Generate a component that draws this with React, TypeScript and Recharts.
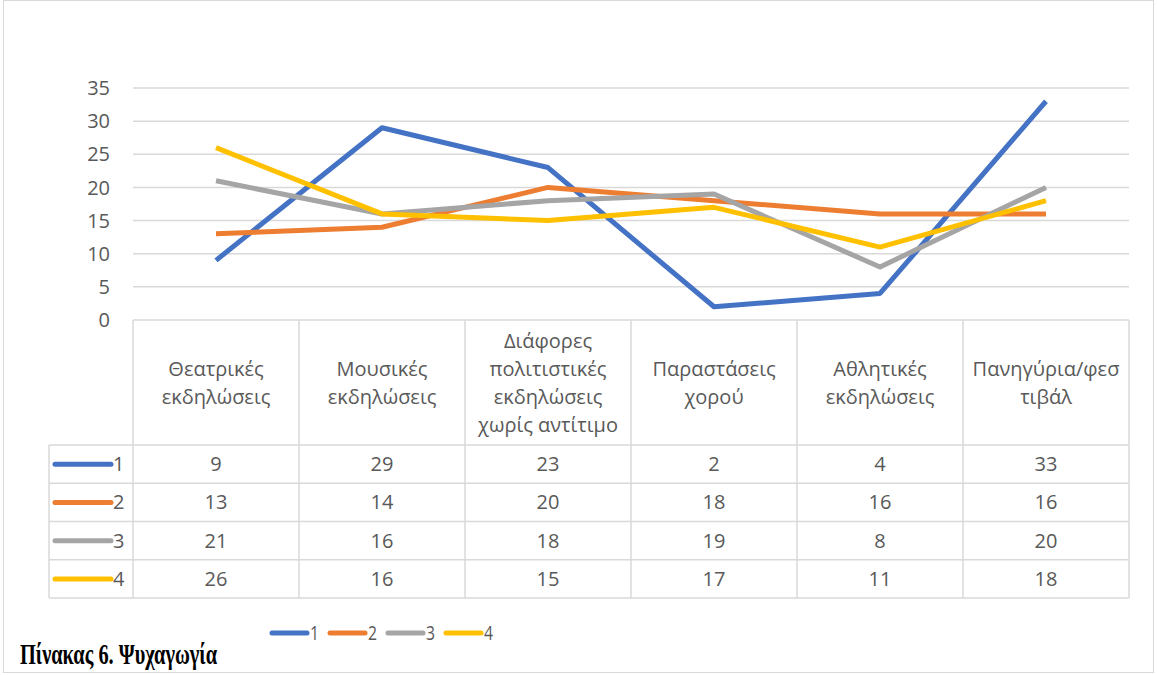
import { LineChart, Line, XAxis, YAxis, CartesianGrid } from 'recharts';

const categories = [
  'Θεατρικές εκδηλώσεις',
  'Μουσικές εκδηλώσεις',
  'Διάφορες πολιτιστικές εκδηλώσεις χωρίς αντίτιμο',
  'Παραστάσεις χορού',
  'Αθλητικές εκδηλώσεις',
  'Πανηγύρια/φεστιβάλ',
];

// header cell text, broken the way the table shows it
const headerLines = [
  ['Θεατρικές', 'εκδηλώσεις'],
  ['Μουσικές', 'εκδηλώσεις'],
  ['Διάφορες', 'πολιτιστικές', 'εκδηλώσεις', 'χωρίς αντίτιμο'],
  ['Παραστάσεις', 'χορού'],
  ['Αθλητικές', 'εκδηλώσεις'],
  ['Πανηγύρια/φεσ', 'τιβάλ'],
];

const seriesNames = ['1', '2', '3', '4'];
const series1 = [9, 29, 23, 2, 4, 33];
const series2 = [13, 14, 20, 18, 16, 16];
const series3 = [21, 16, 18, 19, 8, 20];
const series4 = [26, 16, 15, 17, 11, 18];
const yTicks = [0, 5, 10, 15, 20, 25, 30, 35];

const allSeries = [series1, series2, series3, series4];
const seriesColors = ['#4472C4', '#ED7D31', '#A5A5A5', '#FFC000'];

const chartData = categories.map((name, i) => ({
  name,
  s1: series1[i],
  s2: series2[i],
  s3: series3[i],
  s4: series4[i],
}));

const FONT = "'Open Sans', 'Liberation Sans', sans-serif";
const TEXT = '#595959';
const BORDER = '#d9d9d9';
const FONT_SIZE = 20;
const COL_W = 166;
const HEADER_H = 125;
const ROW_H = 38.25;
const LEGEND_COL_X = 49;

const TableTick = (props: any) => {
  const { x, y, index } = props;
  const lines = headerLines[index] ?? [props.payload?.value];
  const left = x - COL_W / 2;
  const right = x + COL_W / 2;
  const headerMid = y + HEADER_H / 2;
  const rowsTop = y + HEADER_H;
  const bottom = rowsTop + ROW_H * allSeries.length;
  const isFirst = index === 0;
  const isLast = index === categories.length - 1;

  return (
    <g>
      <line x1={left} x2={left} y1={y} y2={bottom} stroke={BORDER} strokeWidth={1.5} />
      {isLast && <line x1={right} x2={right} y1={y} y2={bottom} stroke={BORDER} strokeWidth={1.5} />}
      {[0, 1, 2, 3, 4].map((k) => (
        <line
          key={k}
          x1={isFirst ? LEGEND_COL_X : left}
          x2={right}
          y1={rowsTop + k * ROW_H}
          y2={rowsTop + k * ROW_H}
          stroke={BORDER}
          strokeWidth={1.5}
        />
      ))}
      {isFirst && (
        <line x1={LEGEND_COL_X} x2={LEGEND_COL_X} y1={rowsTop} y2={bottom} stroke={BORDER} strokeWidth={1.5} />
      )}
      {lines.map((t: string, i: number) => (
        <text
          key={i}
          x={x}
          y={headerMid + (i - (lines.length - 1) / 2) * 28}
          dy="0.35em"
          textAnchor="middle"
          fill={TEXT}
          fontSize={FONT_SIZE}
          fontFamily={FONT}
        >
          {t}
        </text>
      ))}
      {allSeries.map((s, r) => (
        <text
          key={r}
          x={x}
          y={rowsTop + (r + 0.5) * ROW_H}
          dy="0.35em"
          textAnchor="middle"
          fill={TEXT}
          fontSize={FONT_SIZE}
          fontFamily={FONT}
        >
          {s[index]}
        </text>
      ))}
      {isFirst &&
        seriesNames.map((n, r) => (
          <g key={n}>
            <line
              x1={55}
              x2={111}
              y1={rowsTop + (r + 0.5) * ROW_H}
              y2={rowsTop + (r + 0.5) * ROW_H}
              stroke={seriesColors[r]}
              strokeWidth={5}
              strokeLinecap="round"
            />
            <text
              x={113}
              y={rowsTop + (r + 0.5) * ROW_H}
              dy="0.35em"
              fill={TEXT}
              fontSize={FONT_SIZE}
              fontFamily={FONT}
            >
              {n}
            </text>
          </g>
        ))}
    </g>
  );
};

export default function App() {
  return (
    <div style={{ position: 'absolute', left: 0, top: 0, width: 1157, height: 675, background: '#fff' }}>
      <div
        style={{
          position: 'absolute',
          left: 3,
          top: 0,
          width: 1149,
          height: 671,
          border: `1.5px solid ${BORDER}`,
        }}
      />
      <LineChart
        width={1157}
        height={675}
        data={chartData}
        margin={{ top: 88, right: 28, left: 73, bottom: 230 }}
        style={{ position: 'absolute', left: 0, top: 0 }}
      >
        <CartesianGrid horizontal vertical={false} stroke={BORDER} strokeWidth={1.5} />
        <YAxis
          width={60}
          domain={[0, 35]}
          ticks={yTicks}
          interval={0}
          axisLine={false}
          tickLine={false}
          tickSize={0}
          tickMargin={23}
          tick={{ fill: TEXT, fontSize: FONT_SIZE, fontFamily: FONT }}
        />
        <XAxis
          dataKey="name"
          type="category"
          scale="point"
          padding={{ left: COL_W / 2, right: COL_W / 2 }}
          height={HEADER_H}
          interval={0}
          axisLine={false}
          tickLine={false}
          tickSize={0}
          tickMargin={0}
          tick={<TableTick />}
        />
        {['s1', 's2', 's3', 's4'].map((k, i) => (
          <Line
            key={k}
            dataKey={k}
            name={seriesNames[i]}
            stroke={seriesColors[i]}
            strokeWidth={5}
            strokeLinejoin="round"
            dot={false}
            activeDot={false}
            isAnimationActive={false}
          />
        ))}
      </LineChart>
      <svg width={1157} height={675} style={{ position: 'absolute', left: 0, top: 0, pointerEvents: 'none' }}>
        {seriesNames.map((n, i) => {
          const x0 = 272 + i * 58;
          return (
            <g key={n}>
              <line x1={x0} x2={x0 + 35} y1={633} y2={633} stroke={seriesColors[i]} strokeWidth={5} strokeLinecap="round" />
              <text
                x={x0 + 38}
                y={633}
                dy="0.35em"
                fill={TEXT}
                fontSize={20}
                fontFamily={FONT}
                textLength={9}
                lengthAdjust="spacingAndGlyphs"
              >
                {n}
              </text>
            </g>
          );
        })}
        <text
          x={20}
          y={664}
          fontSize={30}
          fontWeight="bold"
          fontFamily="'Liberation Serif', 'DejaVu Serif', serif"
          fill="#000"
          textLength={197}
          lengthAdjust="spacingAndGlyphs"
        >
          Πίνακας 6. Ψυχαγωγία
        </text>
      </svg>
    </div>
  );
}
